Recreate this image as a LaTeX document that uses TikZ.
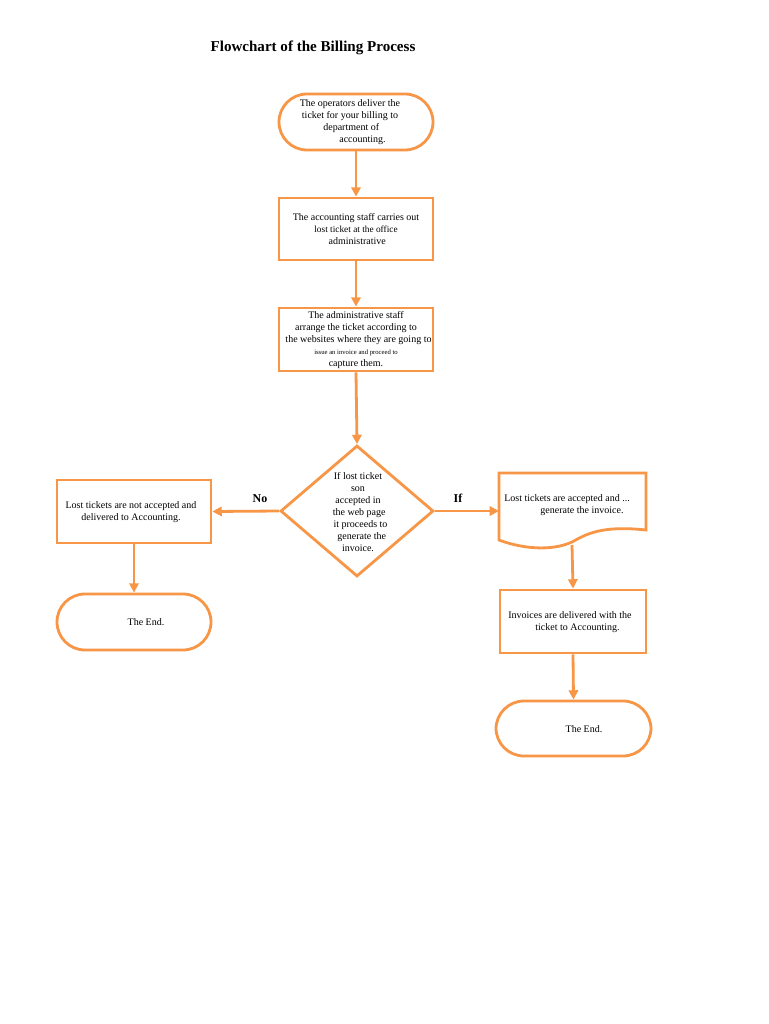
\documentclass[tikz,border=0pt]{standalone}
\usepackage{fontspec}
\setmainfont{Liberation Serif}
\usetikzlibrary{shapes.geometric,arrows.meta}
\definecolor{org}{HTML}{F79646}
\begin{document}
\begin{tikzpicture}[x=0.75pt,y=-0.75pt,
  box/.style={draw=org,line width=2.1pt,fill=white},
  arr/.style={draw=org,line width=2.1pt,-{Triangle[length=7pt,width=7pt]}},
  txt/.style={font=\fontsize{7.5}{9}\selectfont,align=center,inner sep=0pt}]
\useasboundingbox (0,0) rectangle (768,1024);
\node[font=\bfseries\fontsize{11.3}{13}\selectfont] (title) at (313,48) {Flowchart of the Billing Process};
% top terminator
\node[box,rounded corners=28*0.75pt,minimum width=154*0.75pt,minimum height=56*0.75pt,inner sep=0pt] (t1) at (356,122) {};
\node[txt] at (350,122) {The operators deliver the\\ticket for your billing to\\\ department of\\\hspace{2.5em}accounting.};
\node[box,minimum width=154*0.75pt,minimum height=62*0.75pt,inner sep=0pt] (b2) at (356,229) {};
\node[txt] at (356,229) {The accounting staff carries out\\\fontsize{7}{9}\selectfont lost ticket at the office\\\ administrative};
\node[box,minimum width=154*0.75pt,minimum height=63*0.75pt,inner sep=0pt] (b3) at (356,339.5) {};
\node[txt] at (356,340) {The administrative staff\\arrange the ticket according to\\\ \ the websites where they are going to\\{\fontsize{5}{9}\selectfont issue an invoice and proceed to}\\capture them.};
\node[box,diamond,minimum width=153*0.75pt,minimum height=131*0.75pt,inner sep=0pt] (d) at (357,511) {};
\node[txt] at (358,512) {If lost ticket\\son\\accepted in\\\ the web page\\\ \ it proceeds to\\\ \ \ generate the\\invoice.};
\node[box,minimum width=154*0.75pt,minimum height=63*0.75pt,inner sep=0pt] (lb) at (134,511.5) {};
\node[txt] at (131,512) {Lost tickets are not accepted and\\delivered to Accounting.};
\node[box,rounded corners=28*0.75pt,minimum width=154*0.75pt,minimum height=56*0.75pt,inner sep=0pt] (le) at (134,622) {};
\node[txt] at (146,622) {The End.};
% document shape
\draw[box] (499,473) -- (646,473) -- (646,530)
  .. controls (600,525) and (585,535) .. (572,542)
  .. controls (550,552) and (520,548) .. (499,540) -- cycle;
\coordinate (docL) at (499,511);
\coordinate (docB) at (572,545);
\node[txt] at (567,505) {Lost tickets are accepted and ...\\\hspace{3em}generate the invoice.};
\node[box,minimum width=146*0.75pt,minimum height=63*0.75pt,inner sep=0pt] (inv) at (573,621.5) {};
\node[txt] at (570,622) {Invoices are delivered with the\\\hspace{1.5em}ticket to Accounting.};
\node[box,rounded corners=28*0.75pt,minimum width=155*0.75pt,minimum height=55*0.75pt,inner sep=0pt] (re) at (573.5,728.5) {};
\node[txt] at (584,729) {The End.};
\node[font=\bfseries\fontsize{9}{11}\selectfont] (no) at (260,499) {No};
\node[font=\bfseries\fontsize{9}{11}\selectfont] (if) at (458,498) {If};
% arrows
\draw[arr] (t1.south) -- (b2.north);
\draw[arr] (b2.south) -- (b3.north);
\draw[arr] (b3.south) -- (d.north);
\draw[arr] (d.west) -- (lb.east);
\draw[arr] (d.east) -- (docL);
\draw[arr] (lb.south) -- (le.north);
\draw[arr] (docB) -- (inv.north);
\draw[arr] (inv.south) -- (re.north);
\end{tikzpicture}
\end{document}
